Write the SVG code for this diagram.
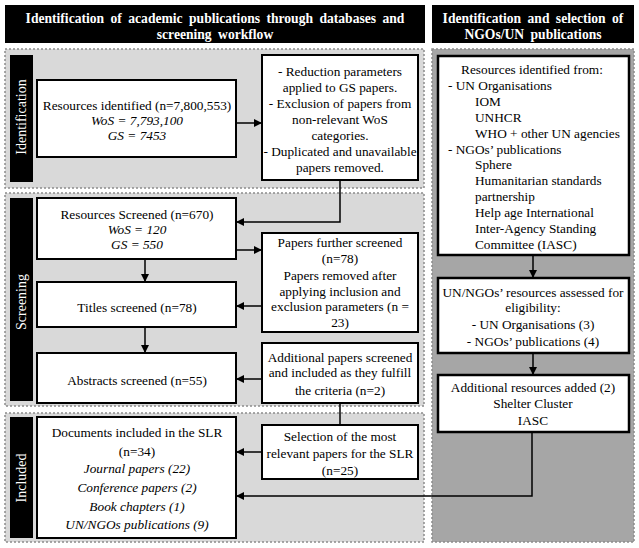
<svg xmlns="http://www.w3.org/2000/svg" width="639" height="548" viewBox="0 0 639 548">
<defs>
<style>
text{font-family:"Liberation Serif","Times New Roman",serif;font-size:13.3px;fill:#000}
.c{text-anchor:middle}
.i{font-style:italic}
.h{font-weight:bold;fill:#fff;font-size:13.6px;text-anchor:middle;word-spacing:3px}
.vl{fill:#fff;font-size:14px;text-anchor:middle}
.sec{fill:#d9d9d9;stroke:#8c8c8c;stroke-width:1.5;stroke-dasharray:2 2}
.secd{fill:#a6a6a6;stroke:#8c8c8c;stroke-width:1.5;stroke-dasharray:2 2}
.box{fill:#fff;stroke:#000;stroke-width:2}
.boxr{fill:#fff;stroke:#000;stroke-width:2.5}
.bar{fill:#000}
.ln{fill:none;stroke:#000;stroke-width:1.5}
</style>
<marker id="ah" viewBox="0 0 10 10" refX="10" refY="5" markerWidth="8" markerHeight="8" markerUnits="userSpaceOnUse" orient="auto">
<path d="M0,0 L10,5 L0,10 z" fill="#000"/>
</marker>
</defs>

<g id="sections">
<rect class="sec" x="5" y="49" width="419" height="139"/>
<rect class="sec" x="5" y="193" width="419" height="213"/>
<rect class="sec" x="5" y="413" width="419" height="129"/>
<rect class="secd" x="432" y="49" width="202" height="493"/>
</g>

<g id="header-left">
<rect class="bar" x="5" y="5" width="420" height="38"/>
<text class="h" x="215" y="23">Identification of academic publications through databases and</text>
<text class="h" x="215" y="39">screening workflow</text>
</g>
<g id="header-right">
<rect class="bar" x="432" y="5" width="202" height="38"/>
<text class="h" x="533" y="23">Identification and selection of</text>
<text class="h" x="533" y="39">NGOs/UN publications</text>
</g>

<g id="label-identification">
<rect class="bar" x="10" y="55" width="23" height="127"/>
<text class="vl" transform="translate(26,117) rotate(-90)">Identification</text>
</g>
<g id="label-screening">
<rect class="bar" x="10" y="198" width="23" height="203"/>
<text class="vl" transform="translate(26,302) rotate(-90)">Screening</text>
</g>
<g id="label-included">
<rect class="bar" x="10" y="417" width="23" height="121"/>
<text class="vl" transform="translate(26,478) rotate(-90)">Included</text>
</g>

<g id="n-identified">
<rect class="box" x="37" y="80" width="199" height="77"/>
<text class="c" x="137" y="110">Resources identified (n=7,800,553)</text>
<text class="c i" x="137" y="125">WoS = 7,793,100</text>
<text class="c i" x="137" y="140">GS = 7453</text>
</g>
<g id="n-reduction">
<rect class="box" x="262" y="55" width="156" height="125"/>
<text class="c" x="340" y="76">- Reduction parameters</text>
<text class="c" x="340" y="92">applied to GS papers.</text>
<text class="c" x="340" y="108">- Exclusion of papers from</text>
<text class="c" x="340" y="124">non-relevant WoS</text>
<text class="c" x="340" y="140">categories.</text>
<text class="c" x="340" y="156">- Duplicated and unavailable</text>
<text class="c" x="340" y="172">papers removed.</text>
</g>
<g id="n-screened">
<rect class="box" x="37" y="198" width="199" height="61"/>
<text class="c" x="137" y="219">Resources Screened (n=670)</text>
<text class="c i" x="137" y="234">WoS = 120</text>
<text class="c i" x="137" y="249">GS = 550</text>
</g>
<g id="n-further">
<rect class="box" x="262" y="233" width="156" height="99"/>
<text class="c" x="340" y="247">Papers further screened</text>
<text class="c" x="340" y="263">(n=78)</text>
<text class="c" x="340" y="280">Papers removed after</text>
<text class="c" x="340" y="296">applying inclusion and</text>
<text class="c" x="340" y="311">exclusion parameters (n =</text>
<text class="c" x="340" y="327">23)</text>
</g>
<g id="n-titles">
<rect class="box" x="37" y="282" width="199" height="45"/>
<text class="c" x="137" y="312">Titles screened (n=78)</text>
</g>
<g id="n-abstracts">
<rect class="box" x="37" y="353" width="199" height="50"/>
<text class="c" x="137" y="385">Abstracts screened (n=55)</text>
</g>
<g id="n-additional">
<rect class="box" x="262" y="343" width="156" height="60"/>
<text class="c" x="340" y="362">Additional papers screened</text>
<text class="c" x="340" y="377">and included as they fulfill</text>
<text class="c" x="340" y="395">the criteria (n=2)</text>
</g>
<g id="n-documents">
<rect class="box" x="37" y="417" width="199" height="121"/>
<text class="c" x="137" y="437">Documents included in the SLR</text>
<text class="c" x="137" y="456">(n=34)</text>
<text class="c i" x="137" y="473">Journal papers (22)</text>
<text class="c i" x="137" y="492">Conference papers (2)</text>
<text class="c i" x="137" y="511">Book chapters (1)</text>
<text class="c i" x="137" y="529">UN/NGOs publications (9)</text>
</g>
<g id="n-selection">
<rect class="box" x="262" y="425" width="156" height="54"/>
<text class="c" x="340" y="441">Selection of the most</text>
<text class="c" x="340" y="458">relevant papers for the SLR</text>
<text class="c" x="340" y="475">(n=25)</text>
</g>

<g id="n-sources">
<rect class="boxr" x="438" y="56" width="191" height="199"/>
<text class="c" x="532" y="74">Resources identified from:</text>
<text x="448" y="89.9">- UN Organisations</text>
<text x="475" y="105.8">IOM</text>
<text x="475" y="121.7">UNHCR</text>
<text x="475" y="137.6">WHO + other UN agencies</text>
<text x="448" y="153.5">- NGOs’ publications</text>
<text x="475" y="169.4">Sphere</text>
<text x="475" y="185.3">Humanitarian standards</text>
<text x="475" y="201.2">partnership</text>
<text x="475" y="217.1">Help age International</text>
<text x="475" y="233">Inter-Agency Standing</text>
<text x="475" y="248.9">Committee (IASC)</text>
</g>
<g id="n-assessed">
<rect class="boxr" x="438" y="278" width="191" height="75"/>
<text class="c" x="533" y="297">UN/NGOs’ resources assessed for</text>
<text class="c" x="533" y="312">eligibility:</text>
<text class="c" x="533" y="329">- UN Organisations (3)</text>
<text class="c" x="533" y="346">- NGOs’ publications (4)</text>
</g>
<g id="n-added">
<rect class="boxr" x="438" y="375" width="191" height="57"/>
<text class="c" x="533" y="392">Additional resources added (2)</text>
<text class="c" x="533" y="408">Shelter Cluster</text>
<text class="c" x="533" y="425">IASC</text>
</g>

<g id="connectors">
<line class="ln" x1="236" y1="123" x2="262" y2="123" marker-end="url(#ah)"/>
<polyline class="ln" points="340,180 340,222 236,222" marker-end="url(#ah)"/>
<line class="ln" x1="236" y1="250" x2="262" y2="250" marker-end="url(#ah)"/>
<line class="ln" x1="145" y1="259" x2="145" y2="282" marker-end="url(#ah)"/>
<line class="ln" x1="262" y1="306" x2="236" y2="306" marker-end="url(#ah)"/>
<line class="ln" x1="145" y1="327" x2="145" y2="353" marker-end="url(#ah)"/>
<line class="ln" x1="262" y1="379" x2="236" y2="379" marker-end="url(#ah)"/>
<line class="ln" x1="340" y1="403" x2="340" y2="425"/>
<line class="ln" x1="262" y1="452" x2="236" y2="452" marker-end="url(#ah)"/>
<polyline class="ln" points="532,432 532,496 236,496" marker-end="url(#ah)"/>
<line class="ln" x1="533" y1="255" x2="533" y2="278" marker-end="url(#ah)"/>
<line class="ln" x1="533" y1="353" x2="533" y2="375" marker-end="url(#ah)"/>
</g>
</svg>
